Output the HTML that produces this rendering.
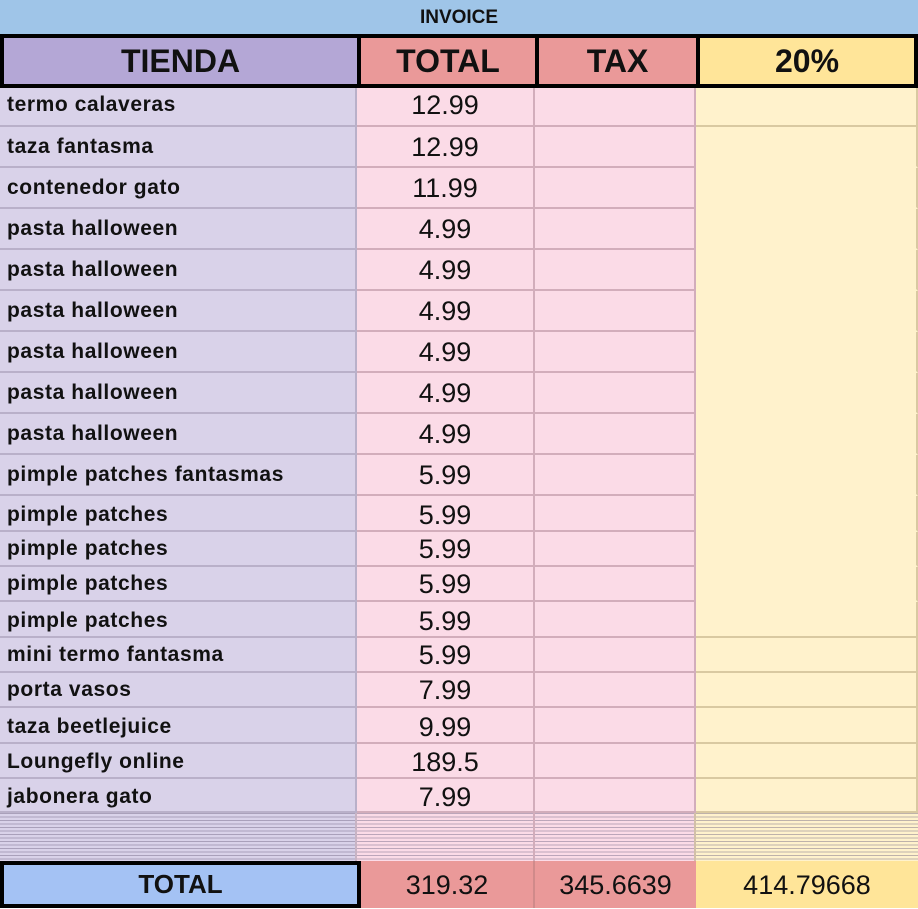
<!DOCTYPE html>
<html><head><meta charset="utf-8"><style>
*{margin:0;padding:0;box-sizing:border-box}
body{width:918px;height:908px;overflow:hidden;background:#fff;font-family:"Liberation Sans",Arial,sans-serif;position:relative}
.a{position:absolute}
.title{left:0;top:0;width:918px;height:34px;background:#9fc5e8;text-align:center;font-weight:bold;font-size:19px;line-height:36px;color:#111}
.hdr{top:34px;height:54px;border:4px solid #000;text-align:center;font-weight:bold;font-size:32px;line-height:46px;color:#111}
.row{left:0;width:918px;display:flex}
.row div{height:100%;border-right:2px solid;border-bottom:2px solid}
.c1{width:357px;background:#d9d2e9;border-color:#b9b0c9!important;font-weight:bold;font-size:21px;letter-spacing:0.6px;padding-left:7px;color:#111;white-space:nowrap}
.c2{width:178px;background:#fbdbe7;border-color:#d2adbb!important;text-align:center;font-size:27px;color:#111}
.c3{width:161px;background:#fbdbe7;border-color:#d2adbb!important}
.c4{width:222px;background:#fff2cc;border-color:#d9c9a1!important}
.nb .c4{border-bottom-color:#fff2cc!important}
.stripe{top:813px;height:48px;background-image:repeating-linear-gradient(to bottom,rgba(110,100,130,.45) 0 1px,transparent 1px 3.5px)}
</style></head><body>
<div class="a title">INVOICE</div>
<div class="a hdr" style="left:0;width:361px;background:#b4a7d6">TIENDA</div>
<div class="a hdr" style="left:357px;width:182px;background:#ea9999">TOTAL</div>
<div class="a hdr" style="left:535px;width:165px;background:#ea9999">TAX</div>
<div class="a hdr" style="left:696px;width:222px;background:#ffe599">20%</div>

<div class="a row" style="top:88px;height:39px;line-height:34px"><div class="c1">termo calaveras</div><div class="c2">12.99</div><div class="c3"></div><div class="c4"></div></div>
<div class="a row nb" style="top:127px;height:41px;line-height:40px"><div class="c1">taza fantasma</div><div class="c2">12.99</div><div class="c3"></div><div class="c4"></div></div>
<div class="a row nb" style="top:168px;height:41px;line-height:40px"><div class="c1">contenedor gato</div><div class="c2">11.99</div><div class="c3"></div><div class="c4"></div></div>
<div class="a row nb" style="top:209px;height:41px;line-height:40px"><div class="c1">pasta halloween</div><div class="c2">4.99</div><div class="c3"></div><div class="c4"></div></div>
<div class="a row nb" style="top:250px;height:41px;line-height:40px"><div class="c1">pasta halloween</div><div class="c2">4.99</div><div class="c3"></div><div class="c4"></div></div>
<div class="a row nb" style="top:291px;height:41px;line-height:40px"><div class="c1">pasta halloween</div><div class="c2">4.99</div><div class="c3"></div><div class="c4"></div></div>
<div class="a row nb" style="top:332px;height:41px;line-height:40px"><div class="c1">pasta halloween</div><div class="c2">4.99</div><div class="c3"></div><div class="c4"></div></div>
<div class="a row nb" style="top:373px;height:41px;line-height:40px"><div class="c1">pasta halloween</div><div class="c2">4.99</div><div class="c3"></div><div class="c4"></div></div>
<div class="a row nb" style="top:414px;height:41px;line-height:40px"><div class="c1">pasta halloween</div><div class="c2">4.99</div><div class="c3"></div><div class="c4"></div></div>
<div class="a row nb" style="top:455px;height:41px;line-height:40px"><div class="c1">pimple patches fantasmas</div><div class="c2">5.99</div><div class="c3"></div><div class="c4"></div></div>
<div class="a row nb" style="top:496px;height:36px;line-height:38px"><div class="c1">pimple patches</div><div class="c2">5.99</div><div class="c3"></div><div class="c4"></div></div>
<div class="a row nb" style="top:532px;height:35px;line-height:34px"><div class="c1">pimple patches</div><div class="c2">5.99</div><div class="c3"></div><div class="c4"></div></div>
<div class="a row nb" style="top:567px;height:35px;line-height:34px"><div class="c1">pimple patches</div><div class="c2">5.99</div><div class="c3"></div><div class="c4"></div></div>
<div class="a row" style="top:602px;height:36px;line-height:38px"><div class="c1">pimple patches</div><div class="c2">5.99</div><div class="c3"></div><div class="c4"></div></div>
<div class="a row" style="top:638px;height:35px;line-height:34px"><div class="c1">mini termo fantasma</div><div class="c2">5.99</div><div class="c3"></div><div class="c4"></div></div>
<div class="a row" style="top:673px;height:35px;line-height:34px"><div class="c1">porta vasos</div><div class="c2">7.99</div><div class="c3"></div><div class="c4"></div></div>
<div class="a row" style="top:708px;height:36px;line-height:38px"><div class="c1">taza beetlejuice</div><div class="c2">9.99</div><div class="c3"></div><div class="c4"></div></div>
<div class="a row" style="top:744px;height:35px;line-height:36px"><div class="c1">Loungefly online</div><div class="c2">189.5</div><div class="c3"></div><div class="c4"></div></div>
<div class="a row" style="top:779px;height:34px;line-height:36px"><div class="c1">jabonera gato</div><div class="c2">7.99</div><div class="c3"></div><div class="c4"></div></div>

<div class="a" style="top:813px;left:0;width:357px;height:48px;background:#d9d2e9"></div>
<div class="a" style="top:813px;left:357px;width:339px;height:48px;background:#fbdbe7"></div>
<div class="a" style="top:813px;left:696px;width:222px;height:48px;background:#fff2cc"></div>
<div class="a stripe" style="left:0;width:918px"></div>
<div class="a" style="top:813px;left:355px;width:2px;height:48px;background:#c8b4c4"></div>
<div class="a" style="top:813px;left:533px;width:2px;height:48px;background:#d2adbb"></div>
<div class="a" style="top:813px;left:694px;width:2px;height:48px;background:#d2c0a8"></div>

<div class="a" style="top:861px;left:0;width:361px;height:47px;background:#a4c2f4;border:4px solid #000;text-align:center;font-weight:bold;font-size:26px;line-height:38px;color:#111">TOTAL</div>
<div class="a" style="top:861px;left:361px;width:174px;height:47px;background:#ea9999;border-right:2px solid #d08a8a;text-align:center;font-size:27px;line-height:48px;color:#111">319.32</div>
<div class="a" style="top:861px;left:535px;width:161px;height:47px;background:#ea9999;text-align:center;font-size:27px;line-height:48px;color:#111">345.6639</div>
<div class="a" style="top:861px;left:696px;width:222px;height:47px;background:#ffe599;text-align:center;font-size:27px;line-height:48px;color:#111">414.79668</div>
</body></html>
